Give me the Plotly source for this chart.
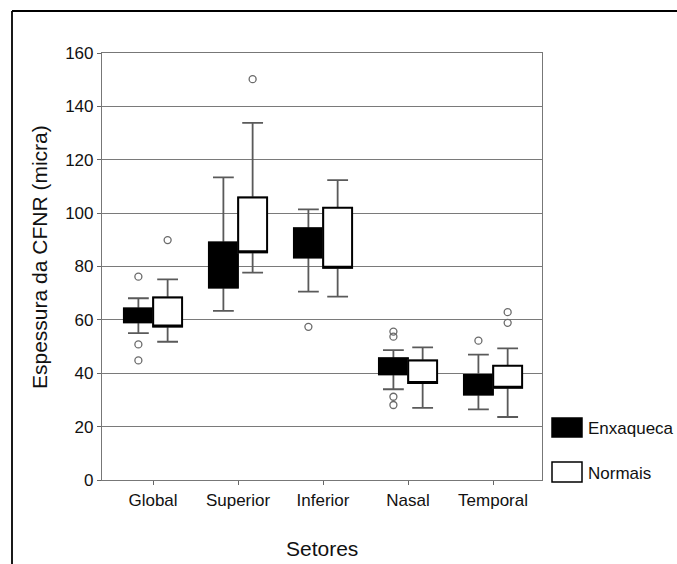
import plotly.graph_objects as go

categories = ["Global", "Superior", "Inferior", "Nasal", "Temporal"]

# Enxaqueca (black boxes)
enx_q1 = [59.1, 72.1, 83.4, 39.6, 32.0]
enx_q3 = [64.3, 89.0, 94.3, 45.6, 39.3]
enx_lo = [55.0, 63.4, 70.6, 34.0, 26.5]
enx_hi = [68.1, 113.4, 101.4, 48.7, 47.0]
enx_out = [[76.2, 50.8, 44.8], [], [57.4], [55.6, 53.7, 31.2, 28.1], [52.2]]

# Normais (white boxes)
nor_q1 = [57.5, 85.3, 79.5, 36.3, 34.6]
nor_q3 = [68.4, 105.9, 102.0, 44.8, 42.8]
nor_lo = [51.8, 77.7, 68.7, 27.0, 23.6]
nor_hi = [75.2, 133.8, 112.4, 49.7, 49.3]
nor_out = [[89.9], [150.2], [], [], [62.9, 58.9]]

y_ticks = [0, 20, 40, 60, 80, 100, 120, 140, 160]

FONT = "Liberation Sans, Arial, sans-serif"
OFF = 0.172
BW = 0.34

fig = go.Figure()


def add_group(offset, q1, q3, lo, hi, outs, fill):
    xs = [i + offset for i in range(len(categories))]
    # whiskers (gray)
    fig.add_trace(go.Box(
        x=xs, q1=q1, median=q1, q3=q3, lowerfence=lo, upperfence=hi,
        width=BW, whiskerwidth=0.72, fillcolor=fill,
        line=dict(color="#5a5a5a", width=1.8),
        boxpoints=False, showlegend=False, hoverinfo="skip",
    ))
    # box body (black outline)
    fig.add_trace(go.Box(
        x=xs, q1=q1, median=q1, q3=q3, lowerfence=q1, upperfence=q3,
        width=BW, whiskerwidth=0, fillcolor=fill,
        line=dict(color="#000000", width=2),
        boxpoints=False, showlegend=False,
    ))
    ox, oy = [], []
    for i, vals in enumerate(outs):
        for v in vals:
            ox.append(i + offset)
            oy.append(v)
    fig.add_trace(go.Scatter(
        x=ox, y=oy, mode="markers", showlegend=False,
        marker=dict(symbol="circle-open", size=7, color="#6a6a6a",
                    line=dict(width=1.3, color="#6a6a6a")),
    ))


add_group(-OFF, enx_q1, enx_q3, enx_lo, enx_hi, enx_out, "#000000")
add_group(OFF, nor_q1, nor_q3, nor_lo, nor_hi, nor_out, "#ffffff")

L, R, T, B = 102, 135, 53, 84
W, H = 677, 564
pw = W - L - R
ph = H - T - B


def px(xp):
    return (xp - L) / pw


def py(yp):
    return (H - B - yp) / ph


shapes = [
    # outer frame (clipped)
    dict(type="line", xref="paper", yref="paper", x0=px(12), x1=px(690),
         y0=py(11), y1=py(11), line=dict(color="#000", width=1.8)),
    dict(type="line", xref="paper", yref="paper", x0=px(12), x1=px(12),
         y0=py(11), y1=py(580), line=dict(color="#000", width=1.8)),
    # legend swatches
    dict(type="rect", xref="paper", yref="paper", x0=px(552), x1=px(582),
         y0=py(437), y1=py(418), fillcolor="#000", line=dict(color="#000", width=1.5)),
    dict(type="rect", xref="paper", yref="paper", x0=px(552), x1=px(582),
         y0=py(482), y1=py(462), fillcolor="#fff", line=dict(color="#000", width=1.5)),
]

annotations = [
    dict(text="Espessura da CFNR (micra)", xref="paper", yref="paper",
         x=px(39), y=py(257), textangle=-90, showarrow=False,
         font=dict(family=FONT, size=21, color="#111"),
         xanchor="center", yanchor="middle"),
    dict(text="Setores", xref="paper", yref="paper",
         x=px(322), y=py(548), showarrow=False,
         font=dict(family=FONT, size=21, color="#111"),
         xanchor="center", yanchor="middle"),
    dict(text="Enxaqueca", xref="paper", yref="paper",
         x=px(586), y=py(428), showarrow=False, xanchor="left", yanchor="middle",
         font=dict(family=FONT, size=17, color="#111")),
    dict(text="Normais", xref="paper", yref="paper",
         x=px(586), y=py(473), showarrow=False, xanchor="left", yanchor="middle",
         font=dict(family=FONT, size=17, color="#111")),
]

fig.update_layout(
    width=W, height=H,
    margin=dict(l=L, r=R, t=T, b=B),
    paper_bgcolor="white", plot_bgcolor="white",
    boxmode="overlay",
    showlegend=False,
    shapes=shapes,
    annotations=annotations,
    font=dict(family=FONT, size=17, color="#111"),
)

fig.update_xaxes(
    range=[-0.6, 4.576],
    tickmode="array", tickvals=list(range(len(categories))), ticktext=categories,
    ticks="outside", ticklen=4, tickcolor="#666",
    showline=True, linecolor="#777", linewidth=1.2, mirror=True,
    showgrid=False, zeroline=False,
    tickfont=dict(family=FONT, size=17, color="#111"),
)
fig.update_yaxes(
    range=[0, 160],
    tickmode="array", tickvals=y_ticks, ticktext=[str(v) for v in y_ticks],
    ticks="outside", ticklen=4, tickcolor="#666",
    showline=True, linecolor="#777", linewidth=1.2, mirror=True,
    showgrid=True, gridcolor="#7a7a7a", gridwidth=1.2,
    zeroline=False,
    tickfont=dict(family=FONT, size=17, color="#111"),
)

fig.write_html(
    "out.html",
    config={"displayModeBar": False},
    post_script="document.body.style.margin='0';document.body.style.overflow='hidden';",
)
